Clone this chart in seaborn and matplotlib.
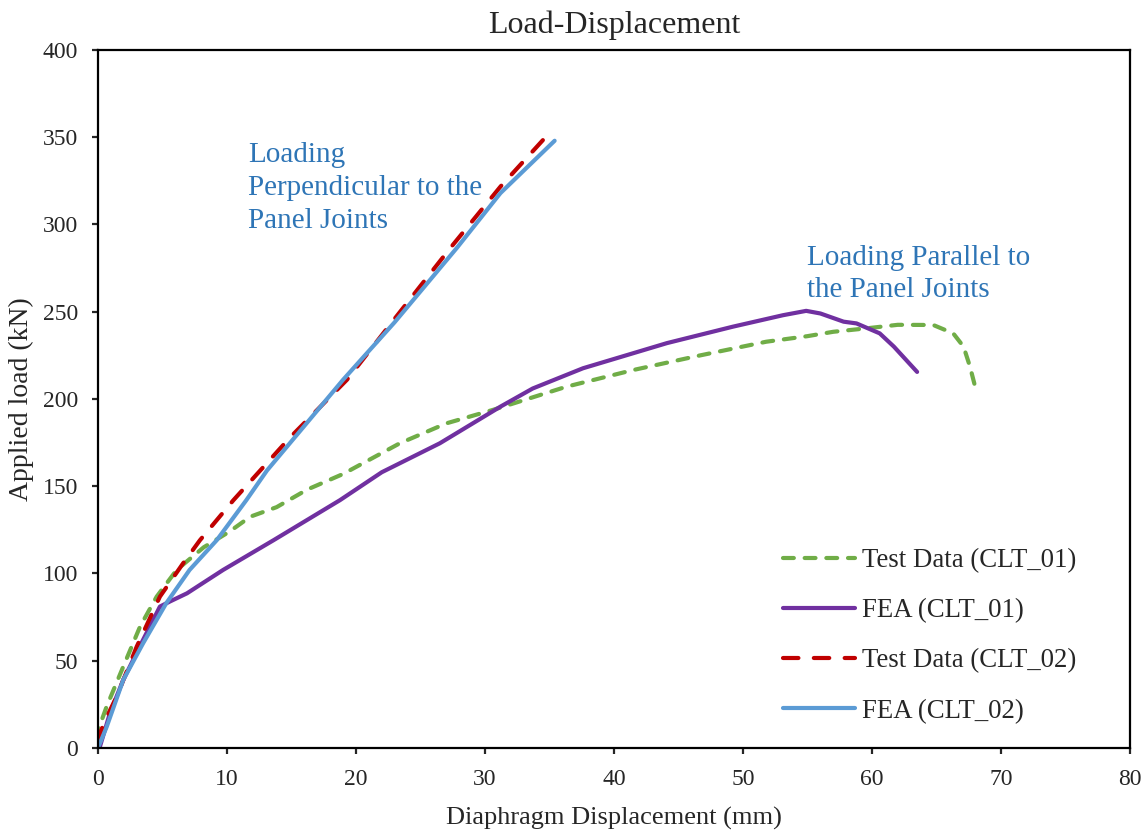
import numpy as np
import pandas as pd
import matplotlib
matplotlib.use("Agg")
import matplotlib.pyplot as plt
import seaborn as sns

# Test Data (CLT_01) - parallel loading, green dashed
test1_x = [0, 0.1, 0.67, 1.96, 3.26, 4.55, 6.1, 8.2, 10.2, 11.8, 13.85, 16.2, 19.0, 23.4, 27.0,
           30.6, 36.3, 41.5, 46.7, 51.8, 55.0, 57.0, 59.6, 62.0, 64.75, 66.3, 67.1, 67.6, 68.0]
test1_y = [5, 12, 23.7, 46.6, 69.5, 86.7, 102, 115, 124, 132.5, 138, 148, 157, 174.6, 186,
           193.7, 207, 216.6, 225, 232.8, 236, 238.5, 240.5, 242.5, 242.4, 237.6, 230, 218.5, 207]

# FEA (CLT_01) - purple
fea1_x = [0, 0.15, 0.93, 1.96, 3.5, 4.8, 5.6, 6.9, 9.7, 13.6, 18.76, 22.0, 26.5, 31.2, 33.7,
          37.6, 44.1, 49.2, 53.1, 54.9, 56.0, 57.8, 58.8, 60.6, 61.7, 63.5]
fea1_y = [0, 0.7, 20, 39, 62, 81, 84, 88.6, 102, 119, 142, 158, 174.6, 195.6, 206,
          217.6, 232, 241.4, 248, 250.5, 249, 244.3, 243.3, 237.6, 230, 215.5]

# Test Data (CLT_02) - perpendicular loading, red dashed
test2_x = [0, 0.15, 0.5, 1.45, 3.0, 4.8, 6.6, 7.9, 10.5, 14.9, 19.3, 23.0, 27.3, 31.2, 35.0]
test2_y = [3, 8, 15, 29.4, 58, 86.7, 105.8, 119, 142, 178, 211, 246, 286.4, 321.7, 352.5]

# FEA (CLT_02) - blue
fea2_x = [0, 0.67, 1.96, 3.5, 5.3, 7.1, 9.2, 11.5, 13.1, 19.0, 23.0, 27.8, 31.2, 35.4]
fea2_y = [0, 12, 39, 60, 83, 102, 119, 142, 159, 211, 244, 286.4, 318, 348]

sns.set_style("ticks")
plt.rcParams["font.family"] = ["Liberation Serif", "DejaVu Serif"]

fig = plt.figure(figsize=(11.46, 8.31), dpi=100)
ax = fig.add_axes([0.0855, 0.1, 0.9005, 0.8398])

series = [
    (test1_x, test1_y, "Test Data (CLT_01)", "#70AD47", (0, (2.6, 2.6))),
    (fea1_x, fea1_y, "FEA (CLT_01)", "#7030A0", "-"),
    (test2_x, test2_y, "Test Data (CLT_02)", "#C00000", (0, (3.7, 3.7))),
    (fea2_x, fea2_y, "FEA (CLT_02)", "#5B9BD5", "-"),
]
for xs, ys, name, col, ls in series:
    df = pd.DataFrame({"x": xs, "y": ys})
    sns.lineplot(data=df, x="x", y="y", sort=False, estimator=None, ax=ax,
                 color=col, linestyle=ls, linewidth=3.0, label=name)

for line in ax.get_lines():
    line.set_dash_capstyle("round")
    line.set_solid_capstyle("round")

ax.set_xlim(0, 80)
ax.set_ylim(0, 400)
ax.set_xticks(range(0, 81, 10))
ax.set_yticks(range(0, 401, 50))
for s in ax.spines.values():
    s.set_visible(True)
    s.set_linewidth(1.6)
    s.set_color("black")
ax.tick_params(axis="both", direction="out", length=4.5, width=1.6, labelsize=17)
ax.tick_params(axis="x", pad=11)
ax.tick_params(axis="y", pad=10)

ax.set_title("Load-Displacement", fontsize=23, pad=12)
ax.set_xlabel("Diaphragm Displacement (mm)", fontsize=19, labelpad=12)
ax.set_ylabel("Applied load (kN)", fontsize=20, labelpad=6)

ax.text(11.63, 347.5, "Loading\nPerpendicular to the\nPanel Joints", color="#2E75B6",
        fontsize=21, va="top", ha="left", linespacing=1.36)
ax.text(55.0, 288, "Loading Parallel to\nthe Panel Joints", color="#2E75B6",
        fontsize=21, va="top", ha="left", linespacing=1.3)

ax.legend(loc="lower left", bbox_to_anchor=(0.64, 0.0), frameon=False, fontsize=19.3,
          handlelength=2.7, labelspacing=0.94, handletextpad=0.25)

fig.savefig("out.png", dpi=100)
